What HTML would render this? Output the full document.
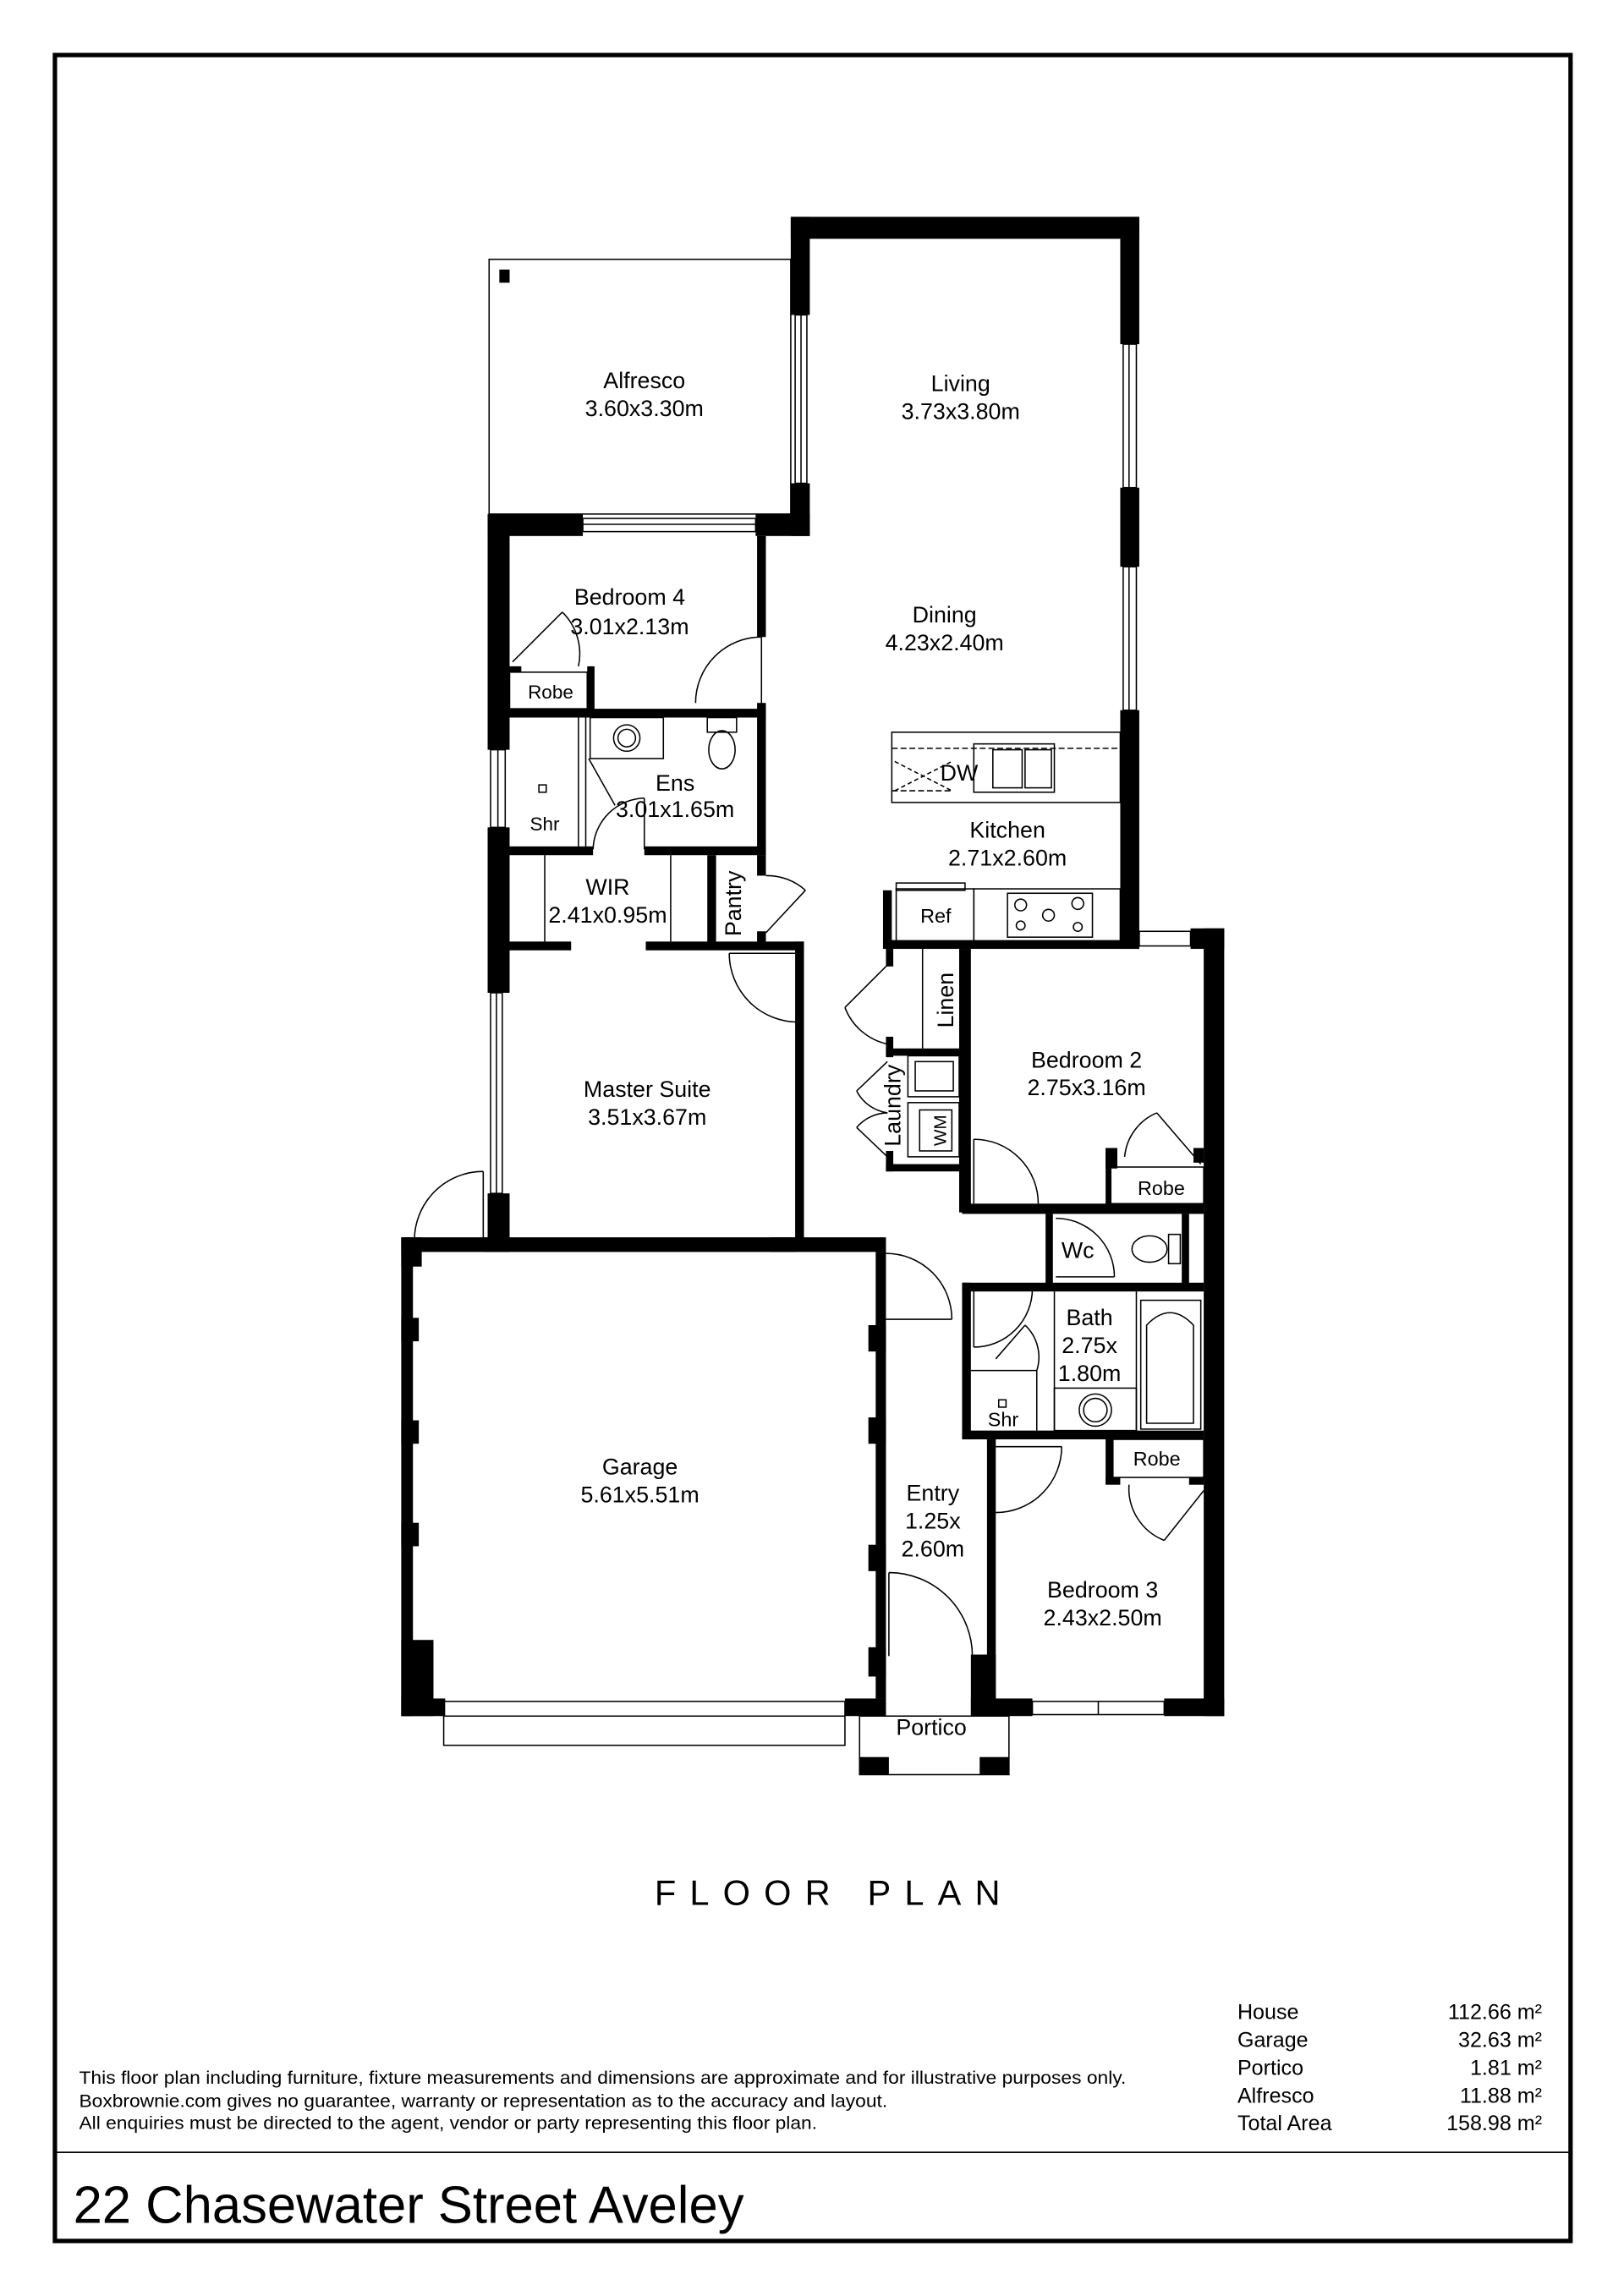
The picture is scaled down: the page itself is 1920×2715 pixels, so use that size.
<!DOCTYPE html>
<html><head><meta charset="utf-8"><style>
html,body{margin:0;padding:0;background:#fff}
svg{display:block}
text{font-family:"Liberation Sans",Arial,sans-serif;fill:#000}
.t{font-size:15.5px;text-anchor:middle}
.l{fill:none;stroke:#000;stroke-width:0.9}
.w{fill:#000}
</style></head><body>
<svg width="1920" height="2715" viewBox="0 0 1109 1568" xmlns="http://www.w3.org/2000/svg">
<rect x="0" y="0" width="1109" height="1568" fill="#fff"/>
<rect x="37.5" y="37.5" width="1035" height="1493" fill="none" stroke="#000" stroke-width="3"/>
<line x1="37" y1="1470" x2="1073" y2="1470" stroke="#000" stroke-width="1"/>
<text x="50" y="1518" font-size="36" textLength="458" lengthAdjust="spacingAndGlyphs">22 Chasewater Street Aveley</text>
<text x="447" y="1301" font-size="24" textLength="236" lengthAdjust="spacing">FLOOR PLAN</text>
<text x="54" y="1423" font-size="12.5" textLength="715" lengthAdjust="spacingAndGlyphs">This floor plan including furniture, fixture measurements and dimensions are approximate and for illustrative purposes only.</text>
<text x="54" y="1439" font-size="12.5" textLength="552" lengthAdjust="spacingAndGlyphs">Boxbrownie.com gives no guarantee, warranty or representation as to the accuracy and layout.</text>
<text x="54" y="1454" font-size="12.5" textLength="504" lengthAdjust="spacingAndGlyphs">All enquiries must be directed to the agent, vendor or party representing this floor plan.</text>
<g font-size="14.5">
<text x="845" y="1379">House</text><text x="1053" y="1379" text-anchor="end">112.66 m²</text>
<text x="845" y="1398">Garage</text><text x="1053" y="1398" text-anchor="end">32.63 m²</text>
<text x="845" y="1417">Portico</text><text x="1053" y="1417" text-anchor="end">1.81 m²</text>
<text x="845" y="1436">Alfresco</text><text x="1053" y="1436" text-anchor="end">11.88 m²</text>
<text x="845" y="1455">Total Area</text><text x="1053" y="1455" text-anchor="end">158.98 m²</text>
</g>

<rect class="l" x="334" y="177" width="206" height="174"/>
<rect class="w" x="341" y="184" width="7" height="9"/>

<g class="w">
<rect x="540" y="148" width="238" height="15"/>
<rect x="540" y="148" width="13" height="67"/>
<rect x="540" y="330" width="13" height="36"/>
<rect x="765" y="148" width="13" height="87"/>
<rect x="765" y="333" width="13" height="54"/>
<rect x="765" y="485" width="13" height="163"/>
<rect x="603" y="642" width="175" height="6"/>
<rect x="603" y="608" width="6" height="40"/>
<rect x="333" y="351" width="65" height="15"/>
<rect x="516" y="351" width="37" height="15"/>
<rect x="333" y="351" width="15" height="161"/>
<rect x="333" y="565" width="15" height="113"/>
<rect x="333" y="815" width="15" height="40"/>
<rect x="517" y="366" width="6" height="69"/>
<rect x="517" y="480" width="6" height="104"/>
<rect x="348" y="484" width="175" height="6"/>
<rect x="401" y="455" width="5" height="30"/>
<rect x="348" y="455" width="8" height="4"/>
<rect x="348" y="578" width="57" height="6"/>
<rect x="440" y="578" width="83" height="6"/>
<rect x="483" y="584" width="6" height="60"/>
<rect x="517" y="584" width="6" height="14"/>
<rect x="517" y="636" width="6" height="8"/>
<rect x="348" y="643" width="42" height="6"/>
<rect x="441" y="643" width="108" height="6"/>
<rect x="543" y="643" width="6" height="205"/>
<rect x="274" y="845" width="331" height="10"/>
<rect x="274" y="845" width="8" height="327"/>
<rect x="274" y="845" width="14" height="20"/>
<rect x="274" y="900" width="12" height="16"/>
<rect x="274" y="970" width="12" height="16"/>
<rect x="274" y="1040" width="12" height="16"/>
<rect x="274" y="1120" width="22" height="52"/>
<rect x="274" y="1160" width="30" height="12"/>
<rect x="577" y="1160" width="28" height="12"/>
<rect x="598" y="855" width="7" height="305"/>
<rect x="593" y="905" width="12" height="18"/>
<rect x="593" y="968" width="12" height="18"/>
<rect x="593" y="1055" width="12" height="18"/>
<rect x="593" y="1125" width="12" height="20"/>
<rect x="330" y="845" width="18" height="10"/>
<rect x="526" y="845" width="18" height="10"/>
<rect x="605" y="648" width="5" height="12"/>
<rect x="605" y="708" width="5" height="14"/>
<rect x="605" y="716" width="55" height="5"/>
<rect x="605" y="786" width="5" height="14"/>
<rect x="605" y="795" width="55" height="5"/>
<rect x="655" y="648" width="8" height="180"/>
<rect x="822" y="634" width="14" height="538"/>
<rect x="813" y="634" width="23" height="14"/>
<rect x="657" y="822" width="165" height="7"/>
<rect x="755" y="784" width="8" height="14"/>
<rect x="755" y="784" width="4" height="40"/>
<rect x="815" y="784" width="7" height="10"/>
<rect x="714" y="829" width="5" height="48"/>
<rect x="807" y="829" width="5" height="48"/>
<rect x="657" y="876" width="165" height="6"/>
<rect x="657" y="876" width="6" height="107"/>
<rect x="657" y="977" width="165" height="6"/>
<rect x="755" y="983" width="5" height="30"/>
<rect x="755" y="1009" width="10" height="5"/>
<rect x="812" y="1009" width="10" height="5"/>
<rect x="674" y="983" width="6" height="189"/>
<rect x="663" y="1130" width="17" height="42"/>
<rect x="663" y="1160" width="42" height="12"/>
<rect x="795" y="1160" width="41" height="12"/>
<rect x="587" y="1200" width="20" height="12"/>
<rect x="669" y="1200" width="20" height="12"/>
</g>

<g class="l">
<rect x="543" y="215" width="8" height="115"/><line x1="547" y1="215" x2="547" y2="330"/>
<rect x="767" y="235" width="9" height="98"/><line x1="771" y1="235" x2="771" y2="333"/>
<rect x="767" y="387" width="9" height="98"/><line x1="771" y1="387" x2="771" y2="485"/>
<rect x="398" y="354" width="118" height="9"/><line x1="398" y1="358" x2="516" y2="358"/>
<rect x="335" y="512" width="10" height="53"/><line x1="340" y1="512" x2="340" y2="565"/>
<rect x="335" y="678" width="8" height="137"/><line x1="339" y1="678" x2="339" y2="815"/>
<rect x="778" y="636" width="35" height="10"/>
<rect x="705" y="1162" width="90" height="9"/><line x1="750" y1="1162" x2="750" y2="1171"/>
<rect x="303" y="1162" width="274" height="30"/><line x1="303" y1="1172" x2="577" y2="1172"/>
<rect x="587" y="1172" width="102" height="40"/>
<rect x="348" y="459" width="53" height="25"/>
<rect x="757" y="797" width="65" height="25"/>
<rect x="760" y="983" width="62" height="26"/>
<line x1="630" y1="648" x2="630" y2="716"/>
<line x1="372" y1="584" x2="372" y2="643"/><line x1="458" y1="584" x2="458" y2="643"/>
<line x1="395" y1="490" x2="395" y2="578"/><line x1="400" y1="490" x2="400" y2="578"/>
<rect x="403" y="490" width="50" height="28"/>
<circle cx="428" cy="504" r="9"/><circle cx="428" cy="504" r="6"/>
<ellipse cx="493" cy="512" rx="9" ry="13"/><rect x="483" y="490" width="20" height="10"/>
<rect x="368" y="536" width="5" height="5"/>
<rect x="609" y="500" width="156" height="48"/>
<line x1="609" y1="511" x2="765" y2="511" stroke-dasharray="4 2"/>
<line x1="609" y1="540" x2="650" y2="540" stroke-dasharray="4 2"/>
<path d="M611,520 L650,540 M611,540 L650,520" stroke-dasharray="3 2"/>
<rect x="665" y="508" width="55" height="33"/>
<rect x="678" y="512" width="20" height="26"/><rect x="700" y="512" width="18" height="26"/>
<rect x="612" y="607" width="53" height="36"/>
<rect x="612" y="603" width="47" height="5"/>
<rect x="665" y="607" width="100" height="36"/>
<rect x="688" y="610" width="58" height="30"/>
<circle cx="697" cy="618" r="4"/><circle cx="697" cy="632" r="3"/><circle cx="716" cy="625" r="4"/>
<circle cx="736" cy="617" r="4"/><circle cx="736" cy="633" r="3"/>
<rect x="620" y="721" width="35" height="28"/><rect x="625" y="725" width="26" height="20"/>
<rect x="620" y="753" width="35" height="37"/><rect x="628" y="758" width="22" height="28"/>
<ellipse cx="785" cy="853" rx="12" ry="9"/><rect x="798" y="843" width="8" height="20"/>
<line x1="720" y1="882" x2="720" y2="977"/><line x1="776" y1="882" x2="776" y2="977"/>
<rect x="779" y="888" width="41" height="88"/>
<path d="M783,972 L783,905 Q799,888 815,905 L815,972 Z"/>
<line x1="663" y1="936" x2="708" y2="936"/><line x1="708" y1="936" x2="708" y2="977"/>
<rect x="720" y="948" width="56" height="29"/><circle cx="748" cy="963" r="11"/><circle cx="748" cy="963" r="8"/>
<rect x="682" y="956" width="5" height="5"/>
<path d="M520,435 L520,480 M520,435 A45,45 0 0 0 475,480"/>
<path d="M350,452 L384,418 M384,418 A40,40 0 0 1 395,455"/>
<path d="M440,545 L440,580 M440,545 A36,36 0 0 0 405,580"/>
<path d="M402,518 L420,550"/>
<path d="M523,637 L550,608 M523,598 A39,39 0 0 1 550,608"/>
<path d="M498,651 L545,651 M498,651 A47,47 0 0 0 545,698"/>
<path d="M606,659 L577,688 M577,688 A40,40 0 0 0 606,713"/>
<path d="M606,725 L585,745 M585,745 A28,28 0 0 0 606,760"/>
<path d="M606,790 L585,770 M585,770 A28,28 0 0 1 606,760"/>
<path d="M665,778 L665,822 M665,778 A44,44 0 0 1 709,822"/>
<path d="M820,795 L790,760 M790,760 A36,36 0 0 0 768,790"/>
<path d="M721,872 L761,872 M721,832 A40,40 0 0 1 761,872"/>
<path d="M665,880 L665,920 M665,920 A40,40 0 0 0 705,880"/>
<path d="M680,928 L700,905 M700,905 A30,30 0 0 1 708,936"/>
<path d="M605,901 L650,901 M605,856 A45,45 0 0 1 650,901"/>
<path d="M680,988 L725,988 M725,988 A45,45 0 0 1 680,1033"/>
<path d="M822,1018 L795,1052 M795,1052 A38,38 0 0 1 771,1014"/>
<path d="M607,1074 L607,1131 M607,1074 A57,57 0 0 1 664,1131"/>
<path d="M330,800 L330,848 M330,800 A47,47 0 0 0 283,848"/>
</g>

<g class="t">
<text x="440" y="265">Alfresco</text><text x="440" y="284">3.60x3.30m</text>
<text x="656" y="267">Living</text><text x="656" y="286">3.73x3.80m</text>
<text x="430" y="413">Bedroom 4</text><text x="430" y="433">3.01x2.13m</text>
<text x="645" y="425">Dining</text><text x="645" y="444">4.23x2.40m</text>
<text x="376" y="477" font-size="13">Robe</text>
<text x="461" y="540">Ens</text><text x="461" y="558">3.01x1.65m</text>
<text x="372" y="567" font-size="13">Shr</text>
<text x="655" y="533">DW</text>
<text x="688" y="572">Kitchen</text><text x="688" y="591">2.71x2.60m</text>
<text x="415" y="611">WIR</text><text x="415" y="630">2.41x0.95m</text>
<text transform="translate(506,617) rotate(-90)">Pantry</text>
<text x="639" y="630" font-size="13.5">Ref</text>
<text transform="translate(651,683) rotate(-90)">Linen</text>
<text x="742" y="729">Bedroom 2</text><text x="742" y="748">2.75x3.16m</text>
<text transform="translate(615,755) rotate(-90)">Laundry</text>
<text transform="translate(646,772) rotate(-90)" font-size="12">WM</text>
<text x="442" y="749">Master Suite</text><text x="442" y="768">3.51x3.67m</text>
<text x="793" y="816" font-size="13.5">Robe</text>
<text x="736" y="859">Wc</text>
<text x="744" y="905">Bath</text><text x="744" y="924">2.75x</text><text x="744" y="943">1.80m</text>
<text x="685" y="974" font-size="13.5">Shr</text>
<text x="790" y="1001" font-size="13.5">Robe</text>
<text x="437" y="1007">Garage</text><text x="437" y="1026">5.61x5.51m</text>
<text x="637" y="1025">Entry</text><text x="637" y="1044">1.25x</text><text x="637" y="1063">2.60m</text>
<text x="753" y="1091">Bedroom 3</text><text x="753" y="1110">2.43x2.50m</text>
<text x="636" y="1185">Portico</text>
</g>
</svg>
</body></html>
